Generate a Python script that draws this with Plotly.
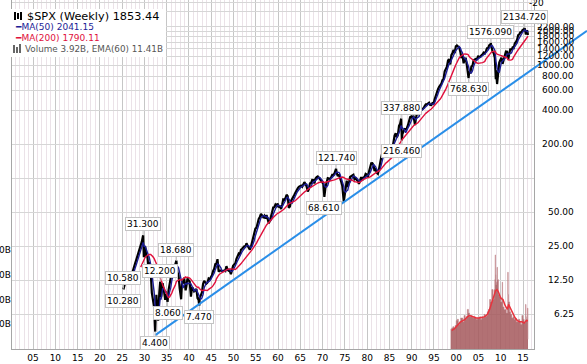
import numpy as np
import pandas as pd
import plotly.graph_objects as go

# ---------------- data ----------------
price_dates = [
    "1925-04-15", "1925-06", "1925-09", "1925-12",
    "1926-03", "1926-06", "1926-09", "1926-12",
    "1927-03", "1927-06", "1927-09", "1927-12",
    "1928-03", "1928-06", "1928-09", "1928-12",
    "1929-03", "1929-06", "1929-09-16", "1929-11-13", "1929-12",
    "1930-03", "1930-06", "1930-09", "1930-12",
    "1931-02", "1931-06", "1931-09", "1931-12",
    "1932-03", "1932-06-01", "1932-09-07", "1932-12",
    "1933-02", "1933-05", "1933-07-17", "1933-10", "1933-12",
    "1934-02", "1934-06", "1934-09", "1934-12",
    "1935-03-14", "1935-06", "1935-09", "1935-12",
    "1936-03", "1936-06", "1936-09", "1936-12",
    "1937-03-06", "1937-06", "1937-09", "1937-12",
    "1938-03-31", "1938-06", "1938-09", "1938-12",
    "1939-04", "1939-06", "1939-09", "1939-12",
    "1940-03", "1940-06-10", "1940-09", "1940-12",
    "1941-03", "1941-06", "1941-09", "1941-12",
    "1942-03", "1942-04-28", "1942-06", "1942-09", "1942-12",
    "1943-03", "1943-06", "1943-09", "1943-12",
    "1944-03", "1944-06", "1944-09", "1944-12",
    "1945-03", "1945-06", "1945-09", "1945-12",
    "1946-03", "1946-05-29", "1946-09", "1946-12",
    "1947-03", "1947-06", "1947-09", "1947-12",
    "1948-03", "1948-06", "1948-09", "1948-12",
    "1949-03", "1949-06", "1949-09", "1949-12",
    "1950-03", "1950-06", "1950-09", "1950-12",
    "1951-03", "1951-06", "1951-09", "1951-12",
    "1952-03", "1952-06", "1952-09", "1952-12",
    "1953-03", "1953-06", "1953-09", "1953-12",
    "1954-03", "1954-06", "1954-09", "1954-12",
    "1955-03", "1955-06", "1955-09", "1955-12",
    "1956-03", "1956-06", "1956-09", "1956-12",
    "1957-03", "1957-06", "1957-09", "1957-12",
    "1958-03", "1958-06", "1958-09", "1958-12",
    "1959-03", "1959-06", "1959-09", "1959-12",
    "1960-03", "1960-06", "1960-09", "1960-12",
    "1961-03", "1961-06", "1961-09", "1961-12",
    "1962-03", "1962-06", "1962-09", "1962-12",
    "1963-03", "1963-06", "1963-09", "1963-12",
    "1964-03", "1964-06", "1964-09", "1964-12",
    "1965-03", "1965-06", "1965-09", "1965-12",
    "1966-03", "1966-06", "1966-09", "1966-12",
    "1967-03", "1967-06", "1967-09", "1967-12",
    "1968-03", "1968-06", "1968-09", "1968-12",
    "1969-03", "1969-06", "1969-09", "1969-12",
    "1970-03", "1970-05-26", "1970-09", "1970-12",
    "1971-03", "1971-06", "1971-09", "1971-12",
    "1972-03", "1972-06", "1972-09", "1972-12",
    "1973-01-11", "1973-03", "1973-06", "1973-09", "1973-12",
    "1974-03", "1974-06", "1974-10-04", "1974-12",
    "1975-03", "1975-06", "1975-09", "1975-12",
    "1976-03", "1976-06", "1976-09", "1976-12",
    "1977-03", "1977-06", "1977-09", "1977-12",
    "1978-03", "1978-06", "1978-09", "1978-12",
    "1979-03", "1979-06", "1979-09", "1979-12",
    "1980-03", "1980-06", "1980-09", "1980-12",
    "1981-03", "1981-06", "1981-09", "1981-12",
    "1982-03", "1982-06", "1982-09", "1982-12",
    "1983-03", "1983-06", "1983-09", "1983-12",
    "1984-03", "1984-06", "1984-09", "1984-12",
    "1985-03", "1985-06", "1985-09", "1985-12",
    "1986-03", "1986-06", "1986-09", "1986-12",
    "1987-03", "1987-06", "1987-08-25", "1987-10-19", "1987-12",
    "1988-03", "1988-06", "1988-09", "1988-12",
    "1989-03", "1989-06", "1989-09", "1989-12",
    "1990-03", "1990-06", "1990-10", "1990-12",
    "1991-03", "1991-06", "1991-09", "1991-12",
    "1992-03", "1992-06", "1992-09", "1992-12",
    "1993-03", "1993-06", "1993-09", "1993-12",
    "1994-03", "1994-06", "1994-09", "1994-12",
    "1995-03", "1995-06", "1995-09", "1995-12",
    "1996-03", "1996-06", "1996-09", "1996-12",
    "1997-03", "1997-06", "1997-09", "1997-12",
    "1998-03", "1998-06", "1998-09", "1998-12",
    "1999-03", "1999-06", "1999-09", "1999-12",
    "2000-03", "2000-06", "2000-09", "2000-12",
    "2001-03", "2001-06", "2001-09", "2001-12",
    "2002-03", "2002-06", "2002-09", "2002-10-10", "2002-12",
    "2003-03", "2003-06", "2003-09", "2003-12",
    "2004-03", "2004-06", "2004-09", "2004-12",
    "2005-03", "2005-06", "2005-09", "2005-12",
    "2006-03", "2006-06", "2006-09", "2006-12",
    "2007-03", "2007-06", "2007-09", "2007-10-11", "2007-12",
    "2008-03", "2008-06", "2008-09", "2008-11-21", "2008-12",
    "2009-03-06", "2009-06", "2009-09", "2009-12",
    "2010-03", "2010-06", "2010-09", "2010-12",
    "2011-03", "2011-06", "2011-09", "2011-12",
    "2012-03", "2012-06", "2012-09", "2012-12",
    "2013-03", "2013-06", "2013-09", "2013-12",
    "2014-03", "2014-06", "2014-09", "2014-12",
    "2015-03", "2015-05-20", "2015-08-24", "2015-09", "2015-12",
    "2016-01-20", "2016-02-12",
]
price_values = [
    10.4, 11.2, 11.9, 12.5,
    11.5, 12.8, 13.4, 13.5,
    14.0, 15.2, 16.8, 17.7,
    19.0, 20.5, 22.5, 24.4,
    25.0, 27.5, 31.3, 20.0, 21.5,
    25.0, 20.5, 20.5, 15.3,
    18.2, 14.8, 9.7, 8.1,
    7.3, 4.4, 9.3, 6.9,
    5.5, 9.6, 12.2, 8.9, 10.1,
    11.8, 9.9, 8.4, 9.5,
    8.06, 10.2, 11.6, 13.4,
    15.0, 14.7, 16.0, 17.2,
    18.68, 14.8, 13.8, 10.6,
    8.5, 11.6, 12.0, 13.2,
    10.2, 11.0, 13.0, 12.5,
    12.2, 8.99, 10.7, 10.6,
    10.0, 10.2, 10.5, 8.7,
    8.4, 7.47, 8.8, 9.2, 9.8,
    11.6, 12.4, 12.0, 11.7,
    12.0, 13.0, 12.8, 13.3,
    13.9, 15.1, 15.8, 17.4,
    17.5, 19.25, 14.9, 15.3,
    15.2, 15.0, 15.1, 15.3,
    15.1, 16.7, 15.5, 15.2,
    15.1, 14.2, 15.6, 16.8,
    17.3, 17.7, 19.4, 20.4,
    21.5, 21.0, 23.3, 23.8,
    24.4, 25.0, 25.0, 26.6,
    25.3, 24.1, 23.4, 24.8,
    26.9, 29.2, 32.3, 35.9,
    36.6, 41.0, 43.7, 45.5,
    48.5, 46.9, 45.4, 46.7,
    44.1, 47.4, 42.4, 40.0,
    42.1, 45.2, 50.1, 55.2,
    55.4, 58.5, 56.9, 59.9,
    55.3, 56.9, 53.5, 58.1,
    65.1, 64.6, 66.7, 71.6,
    69.6, 54.8, 56.3, 63.1,
    66.6, 69.4, 71.7, 75.0,
    79.0, 81.7, 84.2, 84.8,
    86.2, 84.1, 90.0, 92.4,
    89.2, 84.7, 76.6, 80.3,
    90.2, 90.6, 96.7, 96.5,
    90.2, 99.6, 102.7, 103.9,
    101.5, 97.7, 93.1, 92.1,
    89.6, 68.61, 84.2, 92.2,
    100.3, 99.7, 98.3, 102.1,
    107.2, 107.1, 110.6, 118.1,
    121.74, 111.5, 104.3, 108.4, 97.6,
    94.0, 86.0, 62.3, 68.6,
    83.4, 95.2, 83.9, 90.2,
    102.8, 104.3, 105.2, 107.5,
    98.4, 100.5, 96.5, 95.1,
    89.2, 95.5, 102.5, 96.1,
    101.6, 102.9, 109.3, 107.9,
    102.1, 114.2, 125.5, 135.8,
    136.0, 131.2, 116.2, 122.6,
    112.0, 109.6, 120.4, 140.6,
    153.0, 168.1, 166.1, 164.9,
    159.2, 153.2, 166.1, 167.2,
    180.7, 191.9, 182.1, 211.3,
    238.9, 250.8, 231.3, 242.2,
    291.7, 304.0, 337.88, 216.46, 247.1,
    258.9, 273.5, 271.9, 277.7,
    294.9, 318.0, 349.2, 353.4,
    339.9, 358.0, 295.5, 330.2,
    375.2, 371.2, 387.9, 417.1,
    403.7, 408.1, 417.8, 435.7,
    451.7, 450.5, 458.9, 466.5,
    445.8, 444.3, 462.7, 459.3,
    500.7, 544.8, 584.4, 615.9,
    645.5, 670.6, 687.3, 740.7,
    757.1, 885.1, 947.3, 970.4,
    1101.8, 1133.8, 1017.0, 1229.2,
    1286.4, 1372.7, 1282.7, 1469.3,
    1498.6, 1454.6, 1436.5, 1320.3,
    1160.3, 1224.4, 1040.9, 1148.1,
    1147.4, 989.8, 815.3, 768.63, 879.8,
    848.2, 974.5, 996.0, 1111.9,
    1126.2, 1140.8, 1114.6, 1211.9,
    1180.6, 1191.3, 1228.8, 1248.3,
    1294.8, 1270.2, 1335.9, 1418.3,
    1420.9, 1503.4, 1526.8, 1576.09, 1468.4,
    1322.7, 1280.0, 1166.4, 752.4, 903.3,
    683.0, 919.3, 1057.1, 1115.1,
    1169.4, 1030.7, 1141.2, 1257.6,
    1325.8, 1320.6, 1131.4, 1257.6,
    1408.5, 1362.2, 1440.7, 1426.2,
    1569.2, 1606.3, 1681.6, 1848.4,
    1872.3, 1960.2, 1972.3, 2058.9,
    2067.9, 2134.72, 1867.6, 1920.0, 2043.9,
    1859.0, 1853.44,
]

# labelled highs / lows
label_dates = ["1925-04-15", "1925-04-15", "1929-09-16", "1932-06-01", "1933-07-17",
               "1935-03-14", "1937-03-06", "1942-04-28", "1970-05-26", "1973-01-11",
               "1987-08-25", "1987-10-19", "2002-10-10", "2007-10-11", "2015-05-20"]
label_values = [10.58, 10.28, 31.3, 4.4, 12.2, 8.06, 18.68, 7.47, 68.61, 121.74,
                337.88, 216.46, 768.63, 1576.09, 2134.72]
label_texts = ["10.580", "10.280", "31.300", "4.400", "12.200", "8.060", "18.680", "7.470",
               "68.610", "121.740", "337.880", "216.460", "768.630", "1576.090", "2134.720"]
label_side = ["above", "below", "above", "below", "above", "below", "above", "below",
              "below", "above", "above", "below", "below", "above", "above"]

# trend line (support) endpoints
trend_dates = ["1932-06-10", "2029-05-15"]
trend_values = [4.1, 2024.0]

# volume (billions, weekly) and its EMA(60)
vol_dates = [
    "1998-10", "1999-01", "1999-04", "1999-07", "1999-10",
    "2000-01", "2000-04", "2000-07", "2000-10",
    "2001-01", "2001-04", "2001-07", "2001-10",
    "2002-01", "2002-04", "2002-07", "2002-10",
    "2003-01", "2003-04", "2003-07", "2003-10",
    "2004-01", "2004-04", "2004-07", "2004-10",
    "2005-01", "2005-04", "2005-07", "2005-10",
    "2006-01", "2006-04", "2006-07", "2006-10",
    "2007-01", "2007-04", "2007-07", "2007-10",
    "2008-01", "2008-04", "2008-07", "2008-09", "2008-10", "2008-11", "2008-12",
    "2009-01", "2009-03", "2009-04", "2009-07", "2009-10",
    "2010-01", "2010-04", "2010-05", "2010-06", "2010-07", "2010-10",
    "2011-01", "2011-04", "2011-07", "2011-08", "2011-09", "2011-10",
    "2012-01", "2012-04", "2012-07", "2012-10",
    "2013-01", "2013-04", "2013-07", "2013-10",
    "2014-01", "2014-04", "2014-07", "2014-10",
    "2015-01", "2015-04", "2015-07", "2015-08", "2015-09", "2015-10",
    "2016-01", "2016-02-08", "2016-02-15",
]
vol_values = [
    8.0, 8.5, 9.0, 8.5, 9.5,
    11.5, 12.0, 10.0, 11.0,
    12.5, 12.5, 11.0, 13.5,
    12.0, 13.0, 16.0, 14.5,
    13.0, 13.5, 13.0, 12.5,
    13.0, 12.5, 12.0, 12.5,
    12.5, 13.0, 12.0, 13.0,
    12.5, 14.0, 13.0, 13.5,
    15.0, 16.0, 20.0, 19.0,
    24.0, 20.0, 24.0, 28.0, 38.0, 30.0, 26.0,
    27.0, 33.0, 28.0, 22.0, 21.0,
    19.0, 21.0, 27.0, 20.0, 17.0, 16.0,
    16.0, 14.5, 17.0, 31.0, 22.0, 19.0,
    15.0, 14.0, 12.5, 13.0,
    12.0, 12.5, 11.0, 11.0,
    12.0, 11.0, 10.0, 13.5,
    12.0, 10.5, 11.0, 18.0, 13.0, 12.0,
    16.5, 3.92, 3.92,
]
ema_dates = [
    "1999-01", "1999-07", "2000-01", "2000-07", "2001-01", "2001-07", "2002-01", "2002-07",
    "2003-01", "2003-07", "2004-01", "2004-07", "2005-01", "2005-07", "2006-01", "2006-07",
    "2007-01", "2007-07", "2008-01", "2008-07", "2008-11", "2009-03", "2009-07", "2010-01",
    "2010-07", "2011-01", "2011-07", "2011-10", "2012-04", "2012-10", "2013-04", "2013-10",
    "2014-04", "2014-10", "2015-04", "2015-10", "2016-02-12",
]
ema_values = [
    7.5, 8.0, 9.0, 10.0, 11.0, 11.5, 12.0, 13.0,
    13.5, 13.2, 12.8, 12.5, 12.5, 12.5, 12.8, 13.2,
    14.0, 16.0, 19.0, 21.0, 23.5, 24.0, 23.0, 20.5,
    20.0, 17.5, 16.0, 18.0, 16.0, 14.0, 12.5, 11.5,
    11.0, 11.0, 10.5, 11.5, 11.41,
]

# axis tick labels
price_tick_values = [6.25, 12.5, 25, 50, 200, 400, 600, 800, 1000, 1200, 1400, 1600, 1800, 2000, 2200]
price_tick_texts = ["6.25", "12.50", "25.00", "50.00", "200.00", "400.00", "600.00", "800.00",
                    "1000.00", "1200.00", "1400.00", "1600.00", "1800.00", "2000.00", "2200.00"]
price_grid_values = [6.25, 12.5, 25, 50, 100, 200, 400, 600, 800, 1000, 1200, 1400, 1600,
                     1800, 2000, 2200, 3000, 3600]
vol_tick_values = [10, 20, 30, 40]
vol_tick_texts = ["10B", "20B", "30B", "40B"]

legend_lines = ["$SPX (Weekly) 1853.44", "MA(50) 2041.15", "MA(200) 1790.11",
                "Volume 3.92B, EMA(60) 11.41B"]

# ---------------- derived moving averages ----------------
idx = pd.to_datetime(price_dates, format="ISO8601")
s = pd.Series(price_values, index=idx)
ma50 = s.rolling("350D").mean()
ma50[s.index < s.index[0] + pd.Timedelta(days=350)] = np.nan
ma200 = s.rolling("1400D").mean()
ma200[s.index < s.index[0] + pd.Timedelta(days=1400)] = np.nan

# ---------------- figure ----------------
W, H = 587, 364
ML, MB = 12, 15
PW = W - ML           # 575
PH = H - MB           # 349
MAIN_W = 522
FONT = "DejaVu Sans"

fig = go.Figure()

# volume
fig.add_trace(go.Scatter(x=vol_dates, y=vol_values, xaxis="x", yaxis="y3", mode="lines",
                         line=dict(shape="hv", width=0.6, color="#c48a8e"),
                         fill="tozeroy", fillcolor="rgba(165,88,92,0.85)", hoverinfo="skip"))
fig.add_trace(go.Scatter(x=ema_dates, y=ema_values, xaxis="x", yaxis="y3", mode="lines",
                         line=dict(width=1.5, color="#e8323c")))

# price and MAs
fig.add_trace(go.Scatter(x=s.index, y=s.values, mode="lines",
                         line=dict(color="black", width=2.2)))
fig.add_trace(go.Scatter(x=ma50.index, y=ma50.values, mode="lines",
                         line=dict(color="#1c1c96", width=1.4)))
fig.add_trace(go.Scatter(x=ma200.index, y=ma200.values, mode="lines",
                         line=dict(color="#e0103c", width=1.4)))

# trend line on full-width overlay subplot
fig.add_trace(go.Scatter(x=trend_dates, y=trend_values, xaxis="x2", yaxis="y2", mode="lines",
                         line=dict(color="#2a8ee8", width=2)))

yr = [np.log10(3.087), np.log10(3785)]

fig.update_layout(
    width=W, height=H,
    margin=dict(l=ML, r=0, t=0, b=MB, pad=0),
    paper_bgcolor="white", plot_bgcolor="rgba(0,0,0,0)",
    showlegend=False,
    font=dict(family=FONT, size=9, color="black"),
    xaxis=dict(type="date", domain=[0, MAIN_W / PW], range=["1900-04-08", "2017-06-20"],
               tick0="1900-01-01", dtick="M60", tickformat="%y", ticks="",
               showgrid=True, gridcolor="#c6c6c6", gridwidth=1,
               minor=dict(dtick="M12", showgrid=True, gridcolor="#ebe2e8", gridwidth=1),
               showline=True, linecolor="#a6a6a6", mirror=True, zeroline=False,
               tickfont=dict(size=9, family=FONT, color="black"), automargin=False),
    yaxis=dict(type="log", range=yr, tickmode="array", tickvals=price_grid_values,
               showticklabels=False, ticks="", showgrid=True, gridcolor="#d6d6d6",
               showline=True, linecolor="#a6a6a6", mirror=True, zeroline=False,
               side="right", automargin=False),
    yaxis3=dict(overlaying="y", anchor="x", side="left", range=[0, 141],
                tickmode="array", tickvals=vol_tick_values, ticktext=vol_tick_texts,
                showgrid=False, showline=False, zeroline=False, ticks="",
                tickfont=dict(size=9, family=FONT, color="black"), automargin=False),
    xaxis2=dict(type="date", domain=[0, 1], anchor="y2", range=["1900-04-08", "2029-05-15"],
                visible=False, showgrid=False),
    yaxis2=dict(type="log", domain=[0, 1], anchor="x2", range=yr, visible=False, showgrid=False),
)

# right-side price labels (right aligned)
for v, t in zip(price_tick_values, price_tick_texts):
    fig.add_annotation(x=(576 - ML) / PW, xref="paper", xanchor="right",
                       y=np.log10(v), yref="y", yanchor="middle", text=t, showarrow=False,
                       font=dict(size=9, family=FONT, color="black"))

# cut-off label of panel above
fig.add_annotation(x=(546 - ML) / PW, xref="paper", y=1, yref="paper", yanchor="middle",
                   yshift=-3, text="-20", showarrow=False,
                   font=dict(size=9, family=FONT, color="black"))

# high/low callouts
for d, v, t, side in zip(label_dates, label_values, label_texts, label_side):
    fig.add_annotation(x=d, y=np.log10(v), xref="x", yref="y", text=t,
                       showarrow=True, arrowhead=0, arrowwidth=1, arrowcolor="#bcbcbc",
                       ax=0, ay=-11 if side == "above" else 11,
                       bgcolor="white", bordercolor="#c4c4c4", borderwidth=1, borderpad=1,
                       font=dict(size=9, family=FONT, color="black"))

# legend box
def px_x(p):
    return (p - ML) / PW

def px_y(p):
    return 1 - p / PH

fig.add_shape(type="rect", xref="paper", yref="paper", x0=px_x(11), x1=px_x(166),
              y0=px_y(57), y1=px_y(9), fillcolor="white", line=dict(width=0), layer="above")
# bar icon (line 1)
for bx, y0, y1 in [(15, 12, 20), (18, 13, 19), (21, 12, 20)]:
    fig.add_shape(type="line", xref="paper", yref="paper", x0=px_x(bx), x1=px_x(bx),
                  y0=px_y(y1), y1=px_y(y0), line=dict(color="black", width=2), layer="above")
# volume icon (line 4)
for bx, top in [(14, 45), (17, 47), (20, 44)]:
    fig.add_shape(type="line", xref="paper", yref="paper", x0=px_x(bx), x1=px_x(bx),
                  y0=px_y(53), y1=px_y(top), line=dict(color="#666666", width=2), layer="above")

fig.add_annotation(x=px_x(25), y=px_y(16), xref="paper", yref="paper", xanchor="left",
                   yanchor="middle", text=legend_lines[0], showarrow=False,
                   font=dict(size=11.3, family=FONT, color="black"))
fig.add_annotation(x=px_x(13), y=px_y(27), xref="paper", yref="paper", xanchor="left",
                   yanchor="middle", text="━" + legend_lines[1], showarrow=False,
                   font=dict(size=9, family=FONT, color="#1c1c96"))
fig.add_annotation(x=px_x(13), y=px_y(38), xref="paper", yref="paper", xanchor="left",
                   yanchor="middle", text="━" + legend_lines[2], showarrow=False,
                   font=dict(size=9, family=FONT, color="#e0103c"))
fig.add_annotation(x=px_x(22.5), y=px_y(49), xref="paper", yref="paper", xanchor="left",
                   yanchor="middle", text=legend_lines[3], showarrow=False,
                   font=dict(size=8.8, family=FONT, color="#555555"))

fig.write_html("out.html", config={"displayModeBar": False},
               post_script="document.body.style.margin='0px';document.body.style.padding='0px';")
